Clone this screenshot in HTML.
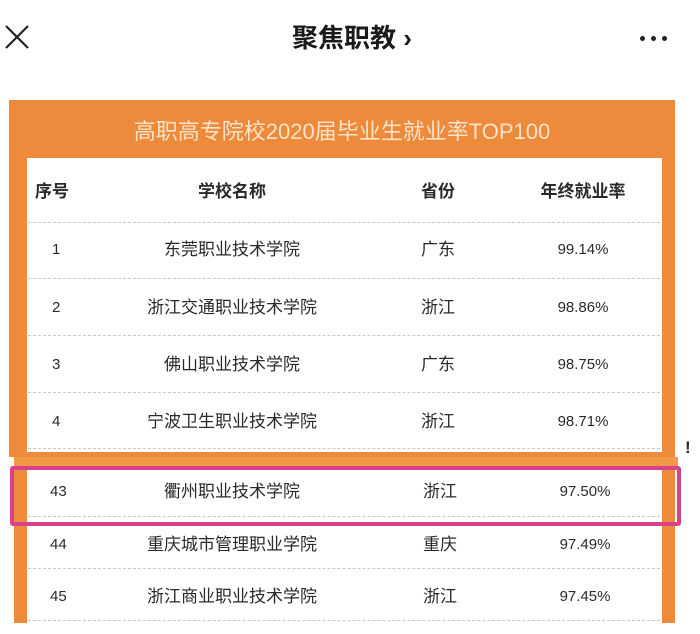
<!DOCTYPE html>
<html><head><meta charset="utf-8"><style>
body{margin:0;width:700px;height:634px;background:#fff;position:relative;overflow:hidden;font-family:"Liberation Sans","Noto Sans CJK SC",sans-serif;color:#222}
.a{position:absolute}
.t{position:absolute;font-size:17px;line-height:20px;color:#2a2a2a;white-space:nowrap}
.c{transform:translateX(-50%)}
.d{position:absolute;left:28px;width:632px;border-top:1.5px dashed #c8c8c8;height:0}
</style></head><body>
<svg class="a" style="left:4px;top:24px" width="26" height="26"><path d="M2 2L24 24M24 2L2 24" stroke="#222" stroke-width="2.2"/></svg>
<div class="t c" style="left:352px;top:23px;font-size:26px;line-height:30px;font-weight:bold;color:#1a1a1a">聚焦职教 ›</div>
<div class="a" style="left:640px;top:36px;width:5px;height:5px;border-radius:3px;background:#222;box-shadow:11px 0 #222,22px 0 #222"></div>
<div class="a" style="left:9px;top:100px;width:666px;height:357px;background:#ee8a3c"></div>
<div class="a" style="left:14px;top:457px;width:664px;height:11px;background:#f19a45"></div>
<div class="a" style="left:14px;top:468px;width:13px;height:155px;background:#ee8a3c"></div>
<div class="a" style="left:662px;top:468px;width:13px;height:155px;background:#ee8a3c"></div>
<div class="t c" style="left:342px;top:119px;font-size:22px;line-height:26px;color:#fbe3c8">高职高专院校2020届毕业生就业率TOP100</div>
<div class="a" style="left:27px;top:158px;width:635px;height:294px;background:#fff"></div>
<div class="a" style="left:27px;top:468px;width:635px;height:155px;background:#fff"></div>
<div class="t" style="left:35px;top:182px;font-weight:bold">序号</div>
<div class="t c" style="left:232px;top:182px;font-weight:bold">学校名称</div>
<div class="t c" style="left:438px;top:182px;font-weight:bold">省份</div>
<div class="t c" style="left:583px;top:182px;font-weight:bold">年终就业率</div>
<div class="d" style="top:222px"></div>
<div class="t" style="left:52px;top:240px;font-size:15px">1</div>
<div class="t c" style="left:232px;top:240px">东莞职业技术学院</div>
<div class="t c" style="left:438px;top:240px">广东</div>
<div class="t c" style="left:583px;top:240px;font-size:15px">99.14%</div>
<div class="d" style="top:278px"></div>
<div class="t" style="left:52px;top:298px;font-size:15px">2</div>
<div class="t c" style="left:232px;top:298px">浙江交通职业技术学院</div>
<div class="t c" style="left:438px;top:298px">浙江</div>
<div class="t c" style="left:583px;top:298px;font-size:15px">98.86%</div>
<div class="d" style="top:335px"></div>
<div class="t" style="left:52px;top:355px;font-size:15px">3</div>
<div class="t c" style="left:232px;top:355px">佛山职业技术学院</div>
<div class="t c" style="left:438px;top:355px">广东</div>
<div class="t c" style="left:583px;top:355px;font-size:15px">98.75%</div>
<div class="d" style="top:392px"></div>
<div class="t" style="left:52px;top:412px;font-size:15px">4</div>
<div class="t c" style="left:232px;top:412px">宁波卫生职业技术学院</div>
<div class="t c" style="left:438px;top:412px">浙江</div>
<div class="t c" style="left:583px;top:412px;font-size:15px">98.71%</div>
<div class="d" style="top:448px"></div>
<div class="t" style="left:50px;top:482px;font-size:15px">43</div>
<div class="t c" style="left:232px;top:482px">衢州职业技术学院</div>
<div class="t c" style="left:440px;top:482px">浙江</div>
<div class="t c" style="left:585px;top:482px;font-size:15px">97.50%</div>
<div class="d" style="top:516px"></div>
<div class="a" style="left:10px;top:466px;width:663px;height:52px;border:4px solid #d9428a;border-radius:3px"></div>
<div class="t" style="left:50px;top:535px;font-size:15px">44</div>
<div class="t c" style="left:232px;top:535px">重庆城市管理职业学院</div>
<div class="t c" style="left:440px;top:535px">重庆</div>
<div class="t c" style="left:585px;top:535px;font-size:15px">97.49%</div>
<div class="d" style="top:568px"></div>
<div class="t" style="left:50px;top:587px;font-size:15px">45</div>
<div class="t c" style="left:232px;top:587px">浙江商业职业技术学院</div>
<div class="t c" style="left:440px;top:587px">浙江</div>
<div class="t c" style="left:585px;top:587px;font-size:15px">97.45%</div>
<div class="d" style="top:620px"></div>
<div class="t" style="left:685px;top:438px;font-weight:bold">!</div>
</body></html>
